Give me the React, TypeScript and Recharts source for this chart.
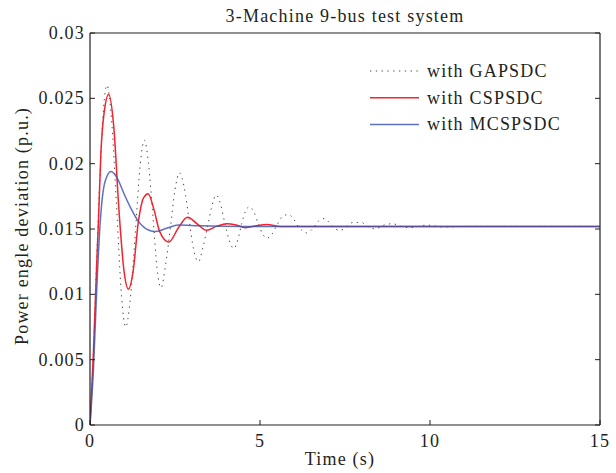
import { Legend, Line, LineChart, XAxis, YAxis } from 'recharts'

// time (s) and power angle deviation (p.u.)
const gaTime = [
  0, 0.1, 0.2, 0.3, 0.4, 0.5, 0.63, 0.78, 0.93, 1.05, 1.18, 1.33, 1.48, 1.6, 1.72,
  1.85, 1.97, 2.09, 2.22, 2.36, 2.5, 2.63, 2.77, 2.91, 3.05, 3.19, 3.33, 3.45,
  3.58, 3.71, 3.85, 3.97, 4.1, 4.23, 4.35, 4.46, 4.58, 4.69, 4.82, 4.95, 5.08,
  5.21, 5.35, 5.52, 5.68, 5.84, 5.98, 6.1, 6.23, 6.36, 6.5, 6.6, 6.72, 6.85, 7.0,
  7.1, 7.22, 7.34, 7.47, 7.6, 7.73, 7.86, 8.0, 8.1, 8.25, 8.38, 8.5, 8.65, 8.9,
  9.15, 9.4, 9.65, 9.9, 10.4, 11, 15,
]
const gaValue = [
  0, 0.0055, 0.013, 0.0195, 0.0243, 0.026, 0.0235, 0.0168, 0.0098, 0.0075,
  0.0095, 0.0146, 0.02, 0.0218, 0.02, 0.016, 0.012, 0.0105, 0.0122, 0.015, 0.018,
  0.0193, 0.0182, 0.0158, 0.0134, 0.0125, 0.0137, 0.0151, 0.0167, 0.0176, 0.0168,
  0.0154, 0.0141, 0.0135, 0.0142, 0.0154, 0.0164, 0.0167, 0.0163, 0.0154, 0.0146,
  0.0143, 0.0146, 0.0154, 0.016, 0.0161, 0.0158, 0.0153, 0.0149, 0.0147, 0.0149,
  0.0152, 0.0156, 0.0158, 0.0156, 0.0153, 0.015, 0.0149, 0.015, 0.0153, 0.0155,
  0.0155, 0.0155, 0.0153, 0.0151, 0.015, 0.0151, 0.0153, 0.0154, 0.0152, 0.0151,
  0.0152, 0.0153, 0.01515, 0.0152, 0.0152,
]

const csTime = [
  0, 0.1, 0.2, 0.25, 0.32, 0.42, 0.55, 0.7, 0.85, 1.0, 1.13, 1.27, 1.42, 1.58,
  1.71, 1.88, 2.05, 2.32, 2.6, 2.87, 3.15, 3.43, 3.72, 4.02, 4.3, 4.57, 4.9, 5.2,
  5.6, 15,
]
const csValue = [
  0, 0.0055, 0.0125, 0.0157, 0.0208, 0.024, 0.0253, 0.0228, 0.0165, 0.0118,
  0.0104, 0.0118, 0.0155, 0.0174, 0.0177, 0.0165, 0.0148, 0.014, 0.0151, 0.0159,
  0.0154, 0.0149, 0.0152, 0.0154, 0.0153, 0.0151, 0.01525, 0.01535, 0.0152,
  0.0152,
]

const mcTime = [
  0, 0.1, 0.2, 0.3, 0.45, 0.62, 0.8, 1.0, 1.2, 1.42, 1.6, 1.91, 2.25, 2.6, 3.2,
  4.5, 15,
]
const mcValue = [
  0, 0.0042, 0.0105, 0.0155, 0.0187, 0.0194, 0.0189, 0.0177, 0.0166, 0.0156,
  0.0151, 0.0148, 0.01505, 0.0153, 0.01525, 0.0152, 0.0152,
]

const xTicks = [0, 5, 10, 15]
const yTicks = [0, 0.005, 0.01, 0.015, 0.02, 0.025, 0.03]
const yTickLabels = ['0', '0.005', '0.01', '0.015', '0.02', '0.025', '0.03']

const rows = (t: number[], v: number[]) => t.map((x, i) => ({ t: x, v: v[i] }))

const FONT = '"Liberation Serif", "Times New Roman", serif'
const INK = '#231f20'
const TXT = { fontFamily: FONT, fontSize: 18, letterSpacing: 1.2, fill: INK }

const series = [
  { name: 'with GAPSDC', data: rows(gaTime, gaValue), color: '#444444', dash: '1.3 4.5', width: 1, opacity: 1 },
  { name: 'with CSPSDC', data: rows(csTime, csValue), color: '#f5222b', dash: undefined, width: 1.5, opacity: 1 },
  { name: 'with MCSPSDC', data: rows(mcTime, mcValue), color: '#3a52b0', dash: undefined, width: 1.5, opacity: 0.82 },
]

const BottomTick = ({ x, y, payload }: any) => (
  <g>
    <line x1={x} x2={x} y1={y} y2={y - 5} stroke={INK} />
    <text x={x} y={y + 22} textAnchor="middle" style={TXT}>
      {payload.value}
    </text>
  </g>
)

const TopTick = ({ x, y }: any) => <line x1={x} x2={x} y1={y} y2={y + 5} stroke={INK} />

const LeftTick = ({ x, y, payload }: any) => (
  <g>
    <line x1={x} x2={x + 5} y1={y} y2={y} stroke={INK} />
    <text x={x - 5} y={y + 6} textAnchor="end" style={TXT}>
      {yTickLabels[yTicks.indexOf(payload.value)]}
    </text>
  </g>
)

const RightTick = ({ x, y }: any) => <line x1={x} x2={x - 5} y1={y} y2={y} stroke={INK} />

const LegendBox = () => (
  <svg width={240} height={90}>
    {series.map((s, i) => (
      <g key={s.name}>
        <line
          x1={10}
          x2={59}
          y1={16 + i * 26.7}
          y2={16 + i * 26.7}
          stroke={s.color}
          strokeWidth={s.width}
          strokeDasharray={s.dash}
          strokeOpacity={s.opacity}
        />
        <text x={67} y={22 + i * 26.7} style={TXT}>
          {s.name}
        </text>
      </g>
    ))}
  </svg>
)

export default function App() {
  return (
    <div style={{ position: 'absolute', left: 0, top: 0, background: '#fff' }}>
      <LineChart
        width={616}
        height={473}
        margin={{ top: 32, right: 15, bottom: 47, left: 89 }}
      >
        <XAxis
          dataKey="t"
          type="number"
          domain={[0, 15]}
          ticks={xTicks}
          allowDataOverflow
          height={1}
          tickSize={0}
          tickMargin={0}
          tickLine={false}
          tick={<BottomTick />}
          interval={0}
          axisLine={{ stroke: INK, strokeWidth: 1.2 }}
          label={{
            content: ({ viewBox }: any) => (
              <text
                x={viewBox.x + viewBox.width / 2 - 5}
                y={viewBox.y + 40}
                textAnchor="middle"
                style={TXT}
              >
                Time (s)
              </text>
            ),
          }}
        />
        <XAxis
          xAxisId="top"
          orientation="top"
          type="number"
          domain={[0, 15]}
          ticks={xTicks}
          allowDataOverflow
          height={1}
          tickSize={0}
          tickMargin={0}
          tickLine={false}
          tick={<TopTick />}
          interval={0}
          axisLine={{ stroke: INK, strokeWidth: 1.2 }}
          label={{
            content: ({ viewBox }: any) => (
              <text
                x={viewBox.x + viewBox.width / 2}
                y={viewBox.y + viewBox.height - 11}
                textAnchor="middle"
                style={TXT}
              >
                3-Machine 9-bus test system
              </text>
            ),
          }}
        />
        <YAxis
          type="number"
          domain={[0, 0.03]}
          ticks={yTicks}
          allowDataOverflow
          width={1}
          tickSize={0}
          tickMargin={0}
          tickLine={false}
          tick={<LeftTick />}
          interval={0}
          axisLine={{ stroke: INK, strokeWidth: 1.2 }}
          label={{
            content: ({ viewBox }: any) => {
              const cx = viewBox.x + viewBox.width - 62
              const cy = viewBox.y + viewBox.height / 2 - 3
              return (
                <text
                  x={cx}
                  y={cy}
                  textAnchor="middle"
                  transform={`rotate(-90 ${cx} ${cy})`}
                  style={TXT}
                >
                  Power engle deviation (p.u.)
                </text>
              )
            },
          }}
        />
        <YAxis
          yAxisId="right"
          orientation="right"
          type="number"
          domain={[0, 0.03]}
          ticks={yTicks}
          allowDataOverflow
          width={1}
          tickSize={0}
          tickMargin={0}
          tickLine={false}
          tick={<RightTick />}
          interval={0}
          axisLine={{ stroke: INK, strokeWidth: 1.2 }}
        />
        <Legend
          layout="vertical"
          align="center"
          verticalAlign="middle"
          content={<LegendBox />}
          wrapperStyle={{ left: 360, top: 55, width: 240, height: 90 }}
        />
        {series.map((s) => (
          <Line
            key={s.name}
            data={s.data}
            dataKey="v"
            name={s.name}
            type="monotone"
            stroke={s.color}
            strokeWidth={s.width}
            strokeDasharray={s.dash}
            strokeOpacity={s.opacity}
            dot={false}
            activeDot={false}
            isAnimationActive={false}
          />
        ))}
      </LineChart>
    </div>
  )
}
